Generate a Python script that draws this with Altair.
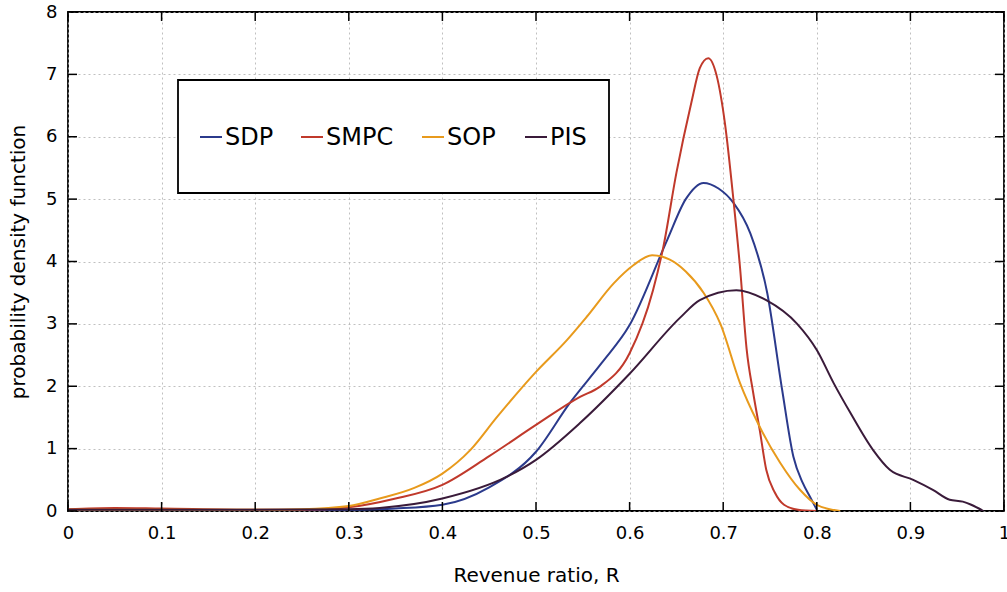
import altair as alt
import pandas as pd

# ---- data ----
series = ["SDP", "SMPC", "SOP", "PIS"]
colors = ["#2b3a8c", "#c0392b", "#e89a1c", "#3a1b3a"]

sdp_x = [0, 0.05, 0.1, 0.2, 0.3, 0.35, 0.4, 0.45, 0.5, 0.536, 0.57, 0.6, 0.64, 0.66, 0.679, 0.695, 0.711, 0.729, 0.747, 0.763, 0.775, 0.785, 0.793, 0.80]
sdp_y = [0.02, 0.02, 0.01, 0.01, 0.02, 0.04, 0.1, 0.38, 0.95, 1.73, 2.37, 2.98, 4.34, 5.0, 5.26, 5.17, 4.94, 4.45, 3.5, 1.94, 0.87, 0.45, 0.22, 0.02]

smpc_x = [0, 0.05, 0.1, 0.2, 0.25, 0.3, 0.35, 0.4, 0.45, 0.5, 0.547, 0.568, 0.6, 0.625, 0.636, 0.65, 0.666, 0.675, 0.684, 0.693, 0.702, 0.711, 0.718, 0.725, 0.732, 0.739, 0.746, 0.755, 0.765, 0.78, 0.8]
smpc_y = [0.03, 0.05, 0.04, 0.02, 0.02, 0.06, 0.2, 0.42, 0.88, 1.38, 1.83, 1.99, 2.53, 3.54, 4.23, 5.42, 6.55, 7.1, 7.26, 6.98, 6.2, 4.98, 3.9, 2.6, 1.9, 1.3, 0.66, 0.3, 0.1, 0.02, 0.0]

sop_x = [0, 0.1, 0.2, 0.25, 0.3, 0.333, 0.37, 0.4, 0.43, 0.458, 0.5, 0.533, 0.554, 0.583, 0.604, 0.624, 0.643, 0.66, 0.679, 0.697, 0.718, 0.737, 0.761, 0.782, 0.80, 0.825]
sop_y = [0.02, 0.02, 0.02, 0.03, 0.08, 0.2, 0.37, 0.6, 0.98, 1.5, 2.23, 2.74, 3.11, 3.65, 3.94, 4.1, 4.03, 3.84, 3.5, 3.0, 2.05, 1.41, 0.77, 0.34, 0.1, 0.0]

pis_x = [0, 0.1, 0.2, 0.3, 0.333, 0.4, 0.469, 0.5, 0.547, 0.6, 0.654, 0.675, 0.714, 0.746, 0.779, 0.80, 0.818, 0.836, 0.86, 0.878, 0.903, 0.924, 0.942, 0.956, 0.965, 0.978]
pis_y = [0.02, 0.02, 0.02, 0.03, 0.05, 0.2, 0.55, 0.82, 1.41, 2.2, 3.1, 3.38, 3.54, 3.38, 3.0, 2.58, 2.05, 1.57, 0.98, 0.66, 0.5, 0.34, 0.18, 0.15, 0.1, 0.0]

x_ticks = [0, 0.1, 0.2, 0.3, 0.4, 0.5, 0.6, 0.7, 0.8, 0.9, 1]
y_ticks = [0, 1, 2, 3, 4, 5, 6, 7, 8]

# ---- build tables ----
rows = []
for name, xs, ys in [("SDP", sdp_x, sdp_y), ("SMPC", smpc_x, smpc_y),
                     ("SOP", sop_x, sop_y), ("PIS", pis_x, pis_y)]:
    for i, (a, b) in enumerate(zip(xs, ys)):
        rows.append({"series": name, "R": a, "pdf": b, "order": i})
df = pd.DataFrame(rows)

FONT = "DejaVu Sans"
W, H = 936, 499

xscale = alt.Scale(domain=[0, 1], nice=False, zero=False)
yscale = alt.Scale(domain=[0, 8], nice=False)

lines = alt.Chart(df).mark_line(strokeWidth=2, interpolate="monotone", clip=True).encode(
    x=alt.X("R:Q", scale=xscale,
            axis=alt.Axis(values=x_ticks, title="Revenue ratio, R", ticks=False, domain=False,
                          labelPadding=13, titlePadding=23, labelBound=False, labelOverlap=False,
                          labelFlush=False,
                          labelExpr="datum.value == 0 ? '0' : datum.value == 1 ? '1' : format(datum.value, '.1f')",
                          gridDash=[2, 3], gridColor="#b0b0b0", gridWidth=0.8)),
    y=alt.Y("pdf:Q", scale=yscale,
            axis=alt.Axis(values=y_ticks, title="probability density function", ticks=False, domain=False,
                          labelPadding=11, titlePadding=17, format="d", labelBound=False,
                          labelOverlap=False, labelFlush=False,
                          gridDash=[2, 3], gridColor="#b0b0b0", gridWidth=0.8)),
    color=alt.Color("series:N", scale=alt.Scale(domain=series, range=colors), legend=None),
    order="order:Q",
    detail="series:N",
)

xt = pd.DataFrame({"t": x_ticks})
yt = pd.DataFrame({"t": y_ticks})
TL = 9
xtick_bottom = alt.Chart(xt).mark_rule(color="black", strokeWidth=1.5).encode(
    x=alt.X("t:Q", scale=xscale), y=alt.value(H), y2=alt.value(H - TL))
xtick_top = alt.Chart(xt).mark_rule(color="black", strokeWidth=1.5).encode(
    x=alt.X("t:Q", scale=xscale), y=alt.value(0), y2=alt.value(TL))
ytick_left = alt.Chart(yt).mark_rule(color="black", strokeWidth=1.5).encode(
    y=alt.Y("t:Q", scale=yscale), x=alt.value(0), x2=alt.value(TL))
ytick_right = alt.Chart(yt).mark_rule(color="black", strokeWidth=1.5).encode(
    y=alt.Y("t:Q", scale=yscale), x=alt.value(W), x2=alt.value(W - TL))

# ---- legend box (drawn) ----
box = alt.Chart(pd.DataFrame({"a": [0]})).mark_rect(
    fill="white", stroke="black", strokeWidth=1.8).encode(
    x=alt.value(110), x2=alt.value(541), y=alt.value(68), y2=alt.value(181))

legend_layers = [box]
entry_x = [132, 233, 354, 457]
LY = 125
for name, col, ex in zip(series, colors, entry_x):
    d = pd.DataFrame({"series": [name]})
    legend_layers.append(alt.Chart(d).mark_rule(color=col, strokeWidth=2).encode(
        x=alt.value(ex), x2=alt.value(ex + 22), y=alt.value(LY)))
    legend_layers.append(alt.Chart(d).mark_text(
        align="left", baseline="middle", font=FONT, fontSize=24, color="black").encode(
        x=alt.value(ex + 25), y=alt.value(LY + 1), text="series:N"))

chart = alt.layer(lines, xtick_bottom, xtick_top, ytick_left, ytick_right, *legend_layers).properties(
    width=W, height=H,
    autosize=alt.AutoSizeParams(type="none"),
    padding={"left": 68, "top": 12, "right": 3, "bottom": 81},
    background="white",
).configure_view(stroke="black", strokeWidth=1.8).configure_axis(
    labelFont=FONT, titleFont=FONT, labelFontSize=18, titleFontSize=20,
    labelColor="black", titleColor="black", titleFontWeight="normal",
)

chart.save("out.html", embed_options={"renderer": "svg", "actions": False})
